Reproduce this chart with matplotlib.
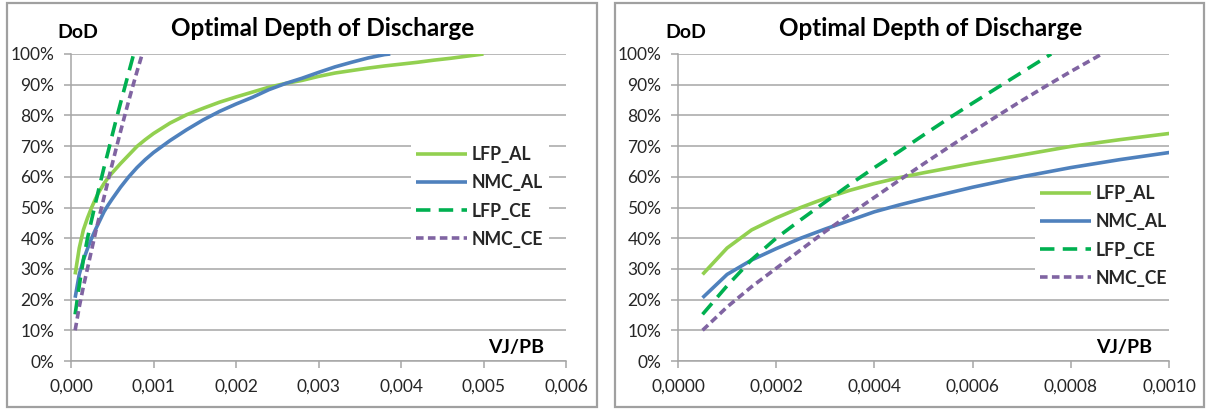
import matplotlib
matplotlib.use("Agg")
import matplotlib.pyplot as plt
from matplotlib.patches import Rectangle

# ---------------- data ----------------
x_lfp_al = [0.00005, 0.0001, 0.00015, 0.0002, 0.00025, 0.0003, 0.00035, 0.0004, 0.00045, 0.0005,
            0.0006, 0.0007, 0.0008, 0.0009, 0.001, 0.0012, 0.0014, 0.0016, 0.0018, 0.002,
            0.0022, 0.0024, 0.0026, 0.0028, 0.003, 0.0032, 0.0034, 0.0036, 0.0038, 0.004,
            0.0042, 0.0044, 0.0046, 0.0048, 0.005]
y_lfp_al = [28.2, 36.8, 42.7, 46.6, 50.0, 53.0, 55.6, 57.8, 59.7, 61.3,
            64.3, 67.1, 69.9, 72.1, 74.1, 77.5, 80.2, 82.3, 84.3, 86.0,
            87.6, 89.2, 90.4, 91.4, 92.7, 93.8, 94.6, 95.4, 96.1, 96.7,
            97.3, 98.0, 98.6, 99.3, 100.0]

x_nmc_al = [0.00005, 0.0001, 0.00015, 0.0002, 0.00025, 0.0003, 0.00035, 0.0004, 0.00045, 0.0005,
            0.0006, 0.0007, 0.0008, 0.0009, 0.001, 0.0012, 0.0014, 0.0016, 0.0018, 0.002,
            0.0022, 0.0024, 0.0026, 0.0028, 0.003, 0.0032, 0.0034, 0.0036, 0.0038, 0.00387]
y_nmc_al = [20.6, 28.2, 32.9, 36.6, 40.0, 43.0, 45.8, 48.6, 50.8, 52.8,
            56.6, 60.0, 63.0, 65.6, 67.9, 71.8, 75.3, 78.5, 81.3, 83.7,
            85.9, 88.4, 90.4, 92.1, 94.0, 95.8, 97.3, 98.7, 99.8, 100.0]

x_lfp_ce = [0.00005, 0.0001, 0.00015, 0.0002, 0.00025, 0.0003, 0.00035, 0.0004, 0.00045, 0.0005,
            0.00055, 0.0006, 0.00065, 0.0007, 0.00076]
y_lfp_ce = [15.2, 24.5, 33.0, 40.0, 46.0, 51.8, 57.5, 63.0, 68.2, 73.6,
            78.9, 84.0, 89.0, 94.0, 100.0]

x_nmc_ce = [0.00005, 0.0001, 0.00015, 0.0002, 0.00025, 0.0003, 0.00035, 0.0004, 0.00045, 0.0005,
            0.00055, 0.0006, 0.00065, 0.0007, 0.00075, 0.0008, 0.00085, 0.000863]
y_nmc_ce = [10.0, 17.6, 24.2, 30.2, 36.2, 42.2, 47.8, 53.3, 58.8, 64.2,
            69.5, 74.7, 79.8, 84.8, 89.6, 94.3, 98.8, 100.0]

series_names = ["LFP_AL", "NMC_AL", "LFP_CE", "NMC_CE"]

y_ticks = [0, 10, 20, 30, 40, 50, 60, 70, 80, 90, 100]
y_tick_labels = ["0%", "10%", "20%", "30%", "40%", "50%", "60%", "70%", "80%", "90%", "100%"]

x_ticks_left = [0.0, 0.001, 0.002, 0.003, 0.004, 0.005, 0.006]
x_tick_labels_left = ["0,000", "0,001", "0,002", "0,003", "0,004", "0,005", "0,006"]
x_ticks_right = [0.0, 0.0002, 0.0004, 0.0006, 0.0008, 0.0010]
x_tick_labels_right = ["0,0000", "0,0002", "0,0004", "0,0006", "0,0008", "0,0010"]

title_text = "Optimal Depth of Discharge"
y_label_text = "DoD"
x_label_text = "VJ/PB"

# ---------------- style ----------------
plt.rcParams['font.family'] = ['Lato', 'DejaVu Sans']
W, H = 1208, 412
fig = plt.figure(figsize=(W / 100, H / 100), dpi=100)
fig.patch.set_facecolor('white')

colors = {"LFP_AL": "#92D050", "NMC_AL": "#4F81BD", "LFP_CE": "#00B050", "NMC_CE": "#8064A2"}
styles = {"LFP_AL": "-", "NMC_AL": "-", "LFP_CE": (0, (4.0, 2.3)), "NMC_CE": (0, (2.1, 1.2))}
grid_color = "#A6A6A6"
text_color = "#262626"


def fx(px):
    return px / W


def fy(py):
    return 1 - py / H


def make_panel(ax_box, frame_box, xlim, xticks, xlabels, legend_anchor, title_cx, dod_x, vj_x):
    l, r, t, b = ax_box
    ax = fig.add_axes([fx(l), fy(b), fx(r) - fx(l), fy(t) - fy(b)])
    data = [(x_lfp_al, y_lfp_al), (x_nmc_al, y_nmc_al), (x_lfp_ce, y_lfp_ce), (x_nmc_ce, y_nmc_ce)]
    for name, (xs, ys) in zip(series_names, data):
        ax.plot(xs, ys, color=colors[name], linestyle=styles[name], linewidth=2.6,
                label=name, solid_capstyle='butt', dash_capstyle='butt', zorder=3)
    ax.set_xlim(*xlim)
    ax.set_ylim(0, 100)
    ax.set_yticks(y_ticks)
    ax.set_yticklabels(y_tick_labels)
    ax.set_xticks(xticks)
    ax.set_xticklabels(xlabels)
    ax.yaxis.grid(True, color=grid_color, linewidth=1.1)
    ax.set_axisbelow(True)
    for s in ['top', 'right']:
        ax.spines[s].set_visible(False)
    for s in ['left', 'bottom']:
        ax.spines[s].set_color(grid_color)
        ax.spines[s].set_linewidth(1.1)
    ax.tick_params(axis='both', colors=grid_color, labelcolor=text_color, labelsize=12.5,
                   length=5, width=1.1, direction='out')
    ax.tick_params(axis='x', pad=8)
    ax.tick_params(axis='y', pad=7)
    ax.set_facecolor('none')
    leg = ax.legend(loc='upper left', bbox_to_anchor=(fx(legend_anchor[0]), fy(legend_anchor[1])),
                    bbox_transform=fig.transFigure, frameon=True, fancybox=False,
                    edgecolor='none', facecolor='white', framealpha=1.0,
                    prop={'weight': 'bold', 'size': 12.7}, handlelength=2.85, handletextpad=0.3,
                    labelspacing=0.63, borderpad=0.3, borderaxespad=0)
    for txt in leg.get_texts():
        txt.set_color(text_color)
    fig.text(fx(title_cx), fy(29), title_text, ha='center', va='center',
             fontsize=17.5, fontweight='bold', color='black')
    fig.text(fx(dod_x), fy(32), y_label_text, ha='left', va='center',
             fontsize=14, fontweight='bold', color='black')
    fig.text(fx(vj_x), fy(347), x_label_text, ha='left', va='center',
             fontsize=14, fontweight='bold', color='black')
    fl, ft, fr, fb = frame_box
    fig.patches.append(Rectangle((fx(fl), fy(fb)), fx(fr) - fx(fl), fy(ft) - fy(fb),
                                 transform=fig.transFigure, fill=False,
                                 edgecolor="#A0A0A0", linewidth=1.6))
    return ax


make_panel((71, 566, 54, 361), (7, 3, 597, 407), (0, 0.006), x_ticks_left, x_tick_labels_left,
           (411, 141), 323, 57, 488)
make_panel((678, 1169, 54, 361), (615, 3, 1204, 407), (0, 0.0010), x_ticks_right, x_tick_labels_right,
           (1035, 180), 931, 665, 1096)

fig.savefig("out.png", dpi=100, facecolor='white')
